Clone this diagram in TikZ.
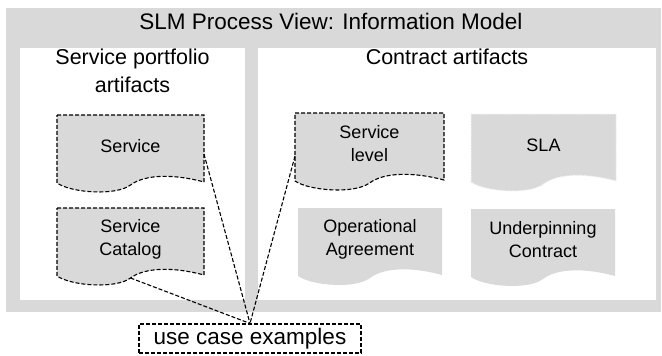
\documentclass[tikz,border=0pt]{standalone}
\usepackage{fontspec}
\setmainfont{Liberation Sans}
\usetikzlibrary{calc}
\pgfdeclarelayer{panels}
\pgfdeclarelayer{shapes}
\pgfsetlayers{panels,shapes,main}
\definecolor{panelgray}{RGB}{217,217,217}
\definecolor{docgray}{RGB}{217,217,217}
\definecolor{dotline}{RGB}{242,242,242}
\newcommand\docpath[1]{%
  let \p1=(#1.north west), \p2=(#1.south east), \n1={\x2-\x1} in
  (\p1) -- (\x2,\y1) -- (\x2,{\y2-5pt})
  .. controls ({\x2-0.2*\n1},{\y2+3pt}) and ({\x1+0.6*\n1},{\y2+3pt}) .. ({\x1+0.5*\n1},{\y2-8pt}) coordinate (#1-b)
  .. controls ({\x1+0.4*\n1},{\y2-19pt}) and ({\x1+0.1*\n1},{\y2-16pt}) .. (\x1,{\y2-6pt}) -- cycle}
\tikzset{
  panel/.style={anchor=north west, inner sep=0pt, outer sep=0pt, draw=none},
  heading/.style={font=\fontsize{21.5}{28}\selectfont, align=center, inner sep=0pt},
  doc/.style={anchor=north west, minimum width=#1, minimum height=62pt, inner sep=0pt, outer sep=0pt, align=center, font=\fontsize{18}{23}\selectfont},
  docdashed/.style={fill=docgray, draw=black, line width=1.1pt, dash pattern=on 4pt off 2pt},
  docdotted/.style={fill=docgray, draw=dotline, line width=1pt, dash pattern=on 1.5pt off 1.5pt},
  docplain/.style={fill=docgray, draw=none},
  conn/.style={draw=black, line width=1.1pt, dash pattern=on 4pt off 2pt},
  ucbox/.style={draw=black, line width=1.1pt, dash pattern=on 4pt off 2pt, fill=white, minimum width=222pt, minimum height=29pt, inner sep=0pt, font=\fontsize{22.5}{26}\selectfont}
}
\begin{document}
\begin{tikzpicture}[x=1pt,y=-1pt]
\useasboundingbox (0,0) rectangle (662,356);
\begin{pgfonlayer}{panels}
\node[panel, fill=panelgray, minimum width=655pt, minimum height=304pt] (outer) at (6,8) {};
\node[panel, fill=white, minimum width=225pt, minimum height=252pt] (lp) at (20,48) {};
\node[panel, fill=white, minimum width=398pt, minimum height=252pt] (rp) at (258,48) {};
\end{pgfonlayer}
\node[font=\fontsize{22.5}{26}\selectfont, anchor=base, inner sep=0pt] (title) at (331,29.5) {SLM Process View: Information Model};
\node[heading, anchor=base] (lh) at (132.5,92.5) {Service portfolio\\artifacts};
\node[heading, anchor=base] (rh) at (447,64.5) {Contract artifacts};
\node[doc=147pt] (svc) at (57,115) {Service};
\node[doc=147pt] (cat) at (57,208) {Service\\Catalog};
\node[doc=149pt] (svl) at (295,113) {Service\\level};
\node[doc=145pt] (sla) at (471,114) {SLA};
\node[doc=144pt] (opa) at (298,208) {Operational\\Agreement};
\node[doc=144pt] (upc) at (471,209) {Underpinning\\Contract};
\begin{pgfonlayer}{shapes}
\path[docdashed] \docpath{svc};
\path[docdashed] \docpath{cat};
\path[docdashed] \docpath{svl};
\path[docdotted] \docpath{sla};
\path[docplain] \docpath{opa};
\path[docplain] \docpath{upc};
\end{pgfonlayer}
\node[ucbox] (uc) at (250,338.5) {use case examples};
\draw[conn] ($(svc.east)+(0,8)$) -- (uc.north);
\draw[conn] ($(svl.west)+(0,12)$) -- (uc.north);
\draw[conn] (cat-b) -- (uc.north);
\end{tikzpicture}
\end{document}
